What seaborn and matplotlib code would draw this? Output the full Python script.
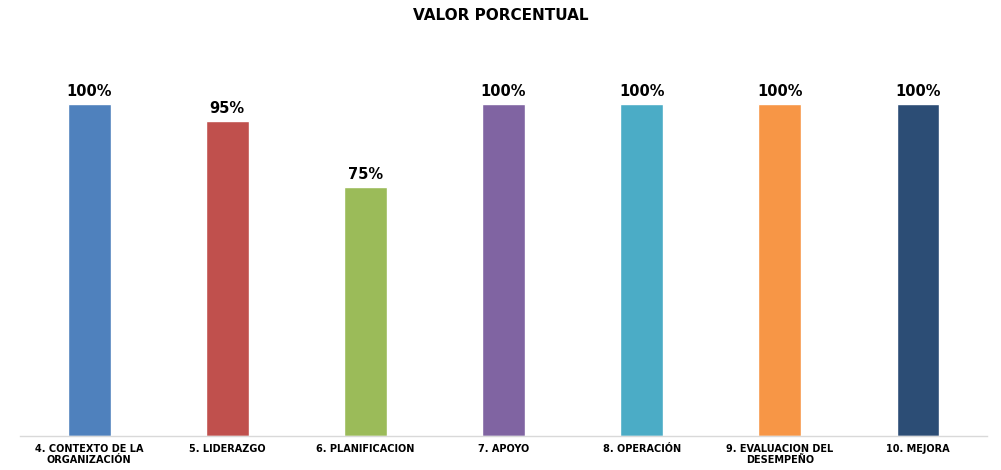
import matplotlib
matplotlib.use("Agg")
import matplotlib.pyplot as plt
import seaborn as sns
import pandas as pd

categorias = [
    "4. CONTEXTO DE LA\nORGANIZACIÓN",
    "5. LIDERAZGO",
    "6. PLANIFICACION",
    "7. APOYO",
    "8. OPERACIÓN",
    "9. EVALUACION DEL\nDESEMPEÑO",
    "10. MEJORA",
]
valores = [1.00, 0.95, 0.75, 1.00, 1.00, 1.00, 1.00]
colores = ["#4F81BD", "#C0504D", "#9BBB59", "#8064A2", "#4BACC6", "#F79646", "#2C4D75"]

df = pd.DataFrame({"categoria": categorias, "valor": valores})

sns.set_theme(style="white")
plt.rcParams["font.family"] = ["DejaVu Sans"]

fig = plt.figure(figsize=(10.01, 4.70), dpi=100)
ax = fig.add_axes([0.02, 0.0723, 0.966, 0.847])

sns.barplot(data=df, x="categoria", y="valor", hue="categoria",
            palette=colores, width=0.31, legend=False, ax=ax, saturation=1)

for i, v in enumerate(valores):
    ax.text(i, v + 0.015, f"{v:.0%}", ha="center", va="bottom",
            fontsize=10.5, fontweight="bold", color="#000000")

ax.set_ylim(0, 1.2)
ax.set_xlim(-0.5, len(categorias) - 0.5)
ax.set_xlabel("")
ax.set_ylabel("")
ax.set_yticks([])
ax.tick_params(axis="x", length=0, pad=6)
for lbl in ax.get_xticklabels():
    lbl.set_fontsize(7)
    lbl.set_fontweight("bold")
    lbl.set_color("#000000")
    lbl.set_linespacing(1.1)

for side in ["top", "right", "left"]:
    ax.spines[side].set_visible(False)
ax.spines["bottom"].set_color("#D9D9D9")
ax.spines["bottom"].set_linewidth(1)

fig.text(0.5, 0.967, "VALOR PORCENTUAL", ha="center", va="center",
         fontsize=11, fontweight="bold", color="#000000")

fig.savefig("out.png", dpi=100)
